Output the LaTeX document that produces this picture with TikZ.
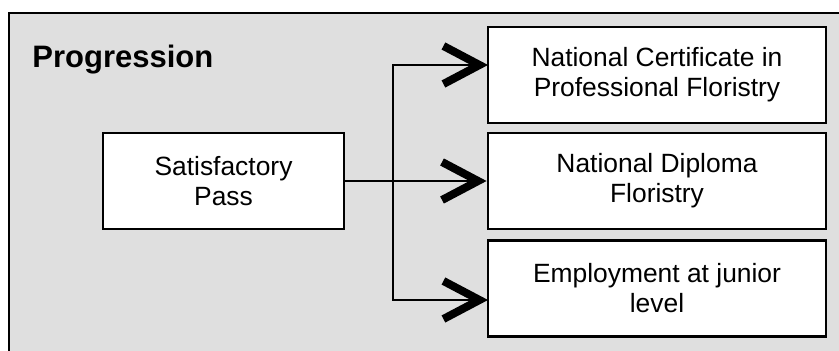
\documentclass[tikz,border=0pt]{standalone}
\usepackage{fontspec}
\setmainfont{Liberation Sans}
\usetikzlibrary{arrows.meta}
\definecolor{PanelGray}{HTML}{DFDFDF}
\tikzset{
  progbox/.style={draw, fill=white, line width=1.4pt, align=center,
    font=\fontsize{13.2}{15}\selectfont, minimum height=48pt, inner sep=0pt},
  flow/.style={line width=1pt,
    -{Straight Barb[length=18pt, width=19pt, line width=4pt, line cap=butt, line join=miter]}},
}

\begin{document}
\begin{tikzpicture}[x=0.5pt, y=-0.5pt]
      \useasboundingbox (0,0) rectangle (839,351);
      \clip (0,0) rectangle (839,351);
      \fill[white] (0,0) rectangle (839,351);
      % Panel
      \draw[fill=PanelGray, line width=1.4pt] (9,13) rectangle (870,380);
      \node[anchor=base west, inner sep=0pt, font=\fontsize{15.5}{18}\selectfont\bfseries] (title) at (32,68) {Progression};
      % Boxes
      \node[progbox, minimum width=120.5pt] (pass) at (223.5,181) {Satisfactory\\Pass};
      \node[progbox, minimum width=169pt] (cert) at (657,75) {National Certificate in\\Professional Floristry};
      \node[progbox, minimum width=169pt] (dipl) at (657,181) {National Diploma\\Floristry};
      \node[progbox, minimum width=169pt] (job) at (657,288.5) {Employment at junior\\level};
      % Branches
      \coordinate (fork) at (393,181);
      \coordinate (certin) at (488,65);
      \coordinate (jobin) at (488,300);
      \draw[flow] (pass) -- (dipl);
      \draw[flow] (fork) |- (certin);
      \draw[flow] (fork) |- (jobin);
    \end{tikzpicture}
\end{document}
